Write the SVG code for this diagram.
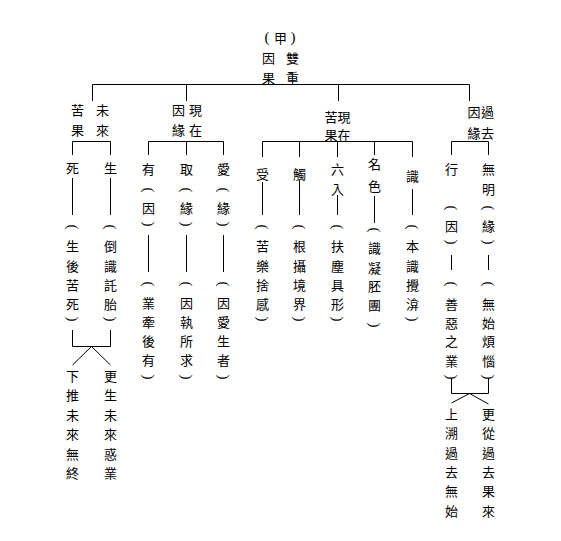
<svg xmlns="http://www.w3.org/2000/svg" width="561" height="541" viewBox="0 0 561 541">
<style>
text{font-family:"Noto Sans CJK TC","Noto Sans CJK SC",sans-serif;font-size:13px;text-anchor:middle;dominant-baseline:central;fill:#000}
text.p,tspan.p{font-family:"Liberation Serif",serif;font-size:15px}
.c line,.c path{stroke:#000;stroke-width:1;fill:none}
</style>
<rect width="561" height="541" fill="#fff"/>
<g id="connectors" class="c">
<line x1="92.5" y1="84.5" x2="469.5" y2="84.5"/>
<line x1="92.5" y1="84.5" x2="92.5" y2="101"/>
<line x1="186.5" y1="84.5" x2="186.5" y2="101"/>
<line x1="338.5" y1="84.5" x2="338.5" y2="101"/>
<line x1="469.5" y1="84.5" x2="469.5" y2="101"/>
<path d="M72.5 155V141.5H110.5V155"/>
<path d="M148.5 155V141.5H223.5V155M186.5 141.5V155"/>
<path d="M262.5 157V141.5H412.5V157M299.5 141.5V157M337.5 141.5V157M374.5 141.5V155"/>
<path d="M451.5 155V141.5H488.5V155"/>
<line x1="72.5" y1="178" x2="72.5" y2="215"/>
<line x1="110.5" y1="178" x2="110.5" y2="215"/>
<path d="M72.5 330V346.5H110.5V330M91.5 346.5L72.5 365M91.5 346.5L110.5 365"/>
<line x1="148.5" y1="235" x2="148.5" y2="272"/>
<line x1="186.5" y1="235" x2="186.5" y2="272"/>
<line x1="223.5" y1="235" x2="223.5" y2="272"/>
<line x1="262.5" y1="182" x2="262.5" y2="215"/>
<line x1="299.5" y1="180" x2="299.5" y2="215"/>
<line x1="337.5" y1="195" x2="337.5" y2="215"/>
<line x1="374.5" y1="196" x2="374.5" y2="223"/>
<line x1="412.5" y1="189" x2="412.5" y2="215"/>
<line x1="451.5" y1="255" x2="451.5" y2="270"/>
<line x1="488.5" y1="255" x2="488.5" y2="270"/>
<path d="M451.5 378V393.5H488.5V378M469.5 393.5L451.5 403M469.5 393.5L488.5 404"/>
</g>
<g id="title">
<text><tspan class="p" x="267" y="37">(</tspan><tspan x="280.5" y="37">甲</tspan><tspan class="p" x="293" y="37">)</tspan></text>
<text x="268.5" y="57">因</text><text x="292.5" y="57">雙</text>
<text x="268.5" y="77">果</text><text x="292.5" y="77">重</text>
</g>
<g id="future-effect">
<text x="77.5" y="109">苦</text><text x="102.5" y="109">未</text>
<text x="77.5" y="129">果</text><text x="102.5" y="129">來</text>
</g>
<g id="present-cause">
<text x="178.5" y="109">因</text><text x="195.5" y="109">現</text>
<text x="178.5" y="129">緣</text><text x="195.5" y="129">在</text>
</g>
<g id="present-effect">
<text x="331" y="116">苦</text><text x="344" y="116">現</text>
<text x="331" y="134">果</text><text x="344" y="134">在</text>
</g>
<g id="past-cause">
<text x="474" y="111">因</text><text x="487.5" y="111">過</text>
<text x="474" y="132">緣</text><text x="487.5" y="132">去</text>
</g>
<g id="death">
<text><tspan x="72.5" y="167">死</tspan><tspan x="72.5" y="245">生</tspan><tspan x="72.5" y="265">後</tspan><tspan x="72.5" y="284">苦</tspan><tspan x="72.5" y="303">死</tspan></text>
<text class="p" x="72.5" y="227" transform="rotate(90 72.5 227)">(</text><text class="p" x="72.5" y="319" transform="rotate(90 72.5 319)">)</text>
</g>
<g id="birth">
<text><tspan x="110.5" y="167">生</tspan><tspan x="110.5" y="245">倒</tspan><tspan x="110.5" y="265">識</tspan><tspan x="110.5" y="284">託</tspan><tspan x="110.5" y="303">胎</tspan></text>
<text class="p" x="110.5" y="227" transform="rotate(90 110.5 227)">(</text><text class="p" x="110.5" y="319" transform="rotate(90 110.5 319)">)</text>
</g>
<g id="future-left">
<text><tspan x="72.5" y="375">下</tspan><tspan x="72.5" y="394">推</tspan><tspan x="72.5" y="414">未</tspan><tspan x="72.5" y="433">來</tspan><tspan x="72.5" y="453">無</tspan><tspan x="72.5" y="472">終</tspan></text>
</g>
<g id="future-right">
<text><tspan x="110.5" y="375">更</tspan><tspan x="110.5" y="394">生</tspan><tspan x="110.5" y="414">未</tspan><tspan x="110.5" y="433">來</tspan><tspan x="110.5" y="453">惑</tspan><tspan x="110.5" y="472">業</tspan></text>
</g>
<g id="becoming">
<text><tspan x="148.5" y="168">有</tspan><tspan x="148.5" y="207">因</tspan><tspan x="148.5" y="302">業</tspan><tspan x="148.5" y="321">牽</tspan><tspan x="148.5" y="340">後</tspan><tspan x="148.5" y="359">有</tspan></text>
<text class="p" x="148.5" y="190" transform="rotate(90 148.5 190)">(</text><text class="p" x="148.5" y="224" transform="rotate(90 148.5 224)">)</text>
<text class="p" x="148.5" y="284" transform="rotate(90 148.5 284)">(</text><text class="p" x="148.5" y="377" transform="rotate(90 148.5 377)">)</text>
</g>
<g id="grasping">
<text><tspan x="186.5" y="168">取</tspan><tspan x="186.5" y="207">緣</tspan><tspan x="186.5" y="302">因</tspan><tspan x="186.5" y="321">執</tspan><tspan x="186.5" y="340">所</tspan><tspan x="186.5" y="359">求</tspan></text>
<text class="p" x="186.5" y="190" transform="rotate(90 186.5 190)">(</text><text class="p" x="186.5" y="224" transform="rotate(90 186.5 224)">)</text>
<text class="p" x="186.5" y="284" transform="rotate(90 186.5 284)">(</text><text class="p" x="186.5" y="377" transform="rotate(90 186.5 377)">)</text>
</g>
<g id="craving">
<text><tspan x="223.5" y="168">愛</tspan><tspan x="223.5" y="207">緣</tspan><tspan x="223.5" y="302">因</tspan><tspan x="223.5" y="321">愛</tspan><tspan x="223.5" y="340">生</tspan><tspan x="223.5" y="359">者</tspan></text>
<text class="p" x="223.5" y="190" transform="rotate(90 223.5 190)">(</text><text class="p" x="223.5" y="224" transform="rotate(90 223.5 224)">)</text>
<text class="p" x="223.5" y="284" transform="rotate(90 223.5 284)">(</text><text class="p" x="223.5" y="377" transform="rotate(90 223.5 377)">)</text>
</g>
<g id="feeling">
<text><tspan x="262.5" y="173">受</tspan><tspan x="262.5" y="245">苦</tspan><tspan x="262.5" y="265">樂</tspan><tspan x="262.5" y="284">捨</tspan><tspan x="262.5" y="303">感</tspan></text>
<text class="p" x="262.5" y="227" transform="rotate(90 262.5 227)">(</text><text class="p" x="262.5" y="319" transform="rotate(90 262.5 319)">)</text>
</g>
<g id="contact">
<text><tspan x="299.5" y="173">觸</tspan><tspan x="299.5" y="245">根</tspan><tspan x="299.5" y="265">攝</tspan><tspan x="299.5" y="284">境</tspan><tspan x="299.5" y="303">界</tspan></text>
<text class="p" x="299.5" y="227" transform="rotate(90 299.5 227)">(</text><text class="p" x="299.5" y="319" transform="rotate(90 299.5 319)">)</text>
</g>
<g id="six-entrances">
<text><tspan x="337.5" y="168">六</tspan><tspan x="337.5" y="188">入</tspan><tspan x="337.5" y="245">扶</tspan><tspan x="337.5" y="265">塵</tspan><tspan x="337.5" y="284">具</tspan><tspan x="337.5" y="303">形</tspan></text>
<text class="p" x="337.5" y="227" transform="rotate(90 337.5 227)">(</text><text class="p" x="337.5" y="319" transform="rotate(90 337.5 319)">)</text>
</g>
<g id="name-form">
<text><tspan x="374.5" y="163">名</tspan><tspan x="374.5" y="185">色</tspan><tspan x="374.5" y="247">識</tspan><tspan x="374.5" y="267">凝</tspan><tspan x="374.5" y="285">胚</tspan><tspan x="374.5" y="304">團</tspan></text>
<text class="p" x="374.5" y="230" transform="rotate(90 374.5 230)">(</text><text class="p" x="374.5" y="325" transform="rotate(90 374.5 325)">)</text>
</g>
<g id="consciousness">
<text><tspan x="412.5" y="175">識</tspan><tspan x="412.5" y="245">本</tspan><tspan x="412.5" y="265">識</tspan><tspan x="412.5" y="284">攪</tspan><tspan x="412.5" y="303">渰</tspan></text>
<text class="p" x="412.5" y="227" transform="rotate(90 412.5 227)">(</text><text class="p" x="412.5" y="319" transform="rotate(90 412.5 319)">)</text>
</g>
<g id="formation">
<text><tspan x="451.5" y="168">行</tspan><tspan x="451.5" y="225">因</tspan><tspan x="451.5" y="303">善</tspan><tspan x="451.5" y="322">惡</tspan><tspan x="451.5" y="340">之</tspan><tspan x="451.5" y="360">業</tspan></text>
<text class="p" x="451.5" y="208" transform="rotate(90 451.5 208)">(</text><text class="p" x="451.5" y="242" transform="rotate(90 451.5 242)">)</text>
<text class="p" x="451.5" y="284" transform="rotate(90 451.5 284)">(</text><text class="p" x="451.5" y="377" transform="rotate(90 451.5 377)">)</text>
</g>
<g id="ignorance">
<text><tspan x="488.5" y="168">無</tspan><tspan x="488.5" y="188">明</tspan><tspan x="488.5" y="225">緣</tspan><tspan x="488.5" y="303">無</tspan><tspan x="488.5" y="322">始</tspan><tspan x="488.5" y="340">煩</tspan><tspan x="488.5" y="360">惱</tspan></text>
<text class="p" x="488.5" y="208" transform="rotate(90 488.5 208)">(</text><text class="p" x="488.5" y="242" transform="rotate(90 488.5 242)">)</text>
<text class="p" x="488.5" y="284" transform="rotate(90 488.5 284)">(</text><text class="p" x="488.5" y="377" transform="rotate(90 488.5 377)">)</text>
</g>
<g id="past-left">
<text><tspan x="451.5" y="413">上</tspan><tspan x="451.5" y="432">溯</tspan><tspan x="451.5" y="452">過</tspan><tspan x="451.5" y="471">去</tspan><tspan x="451.5" y="490">無</tspan><tspan x="451.5" y="510">始</tspan></text>
</g>
<g id="past-right">
<text><tspan x="488.5" y="413">更</tspan><tspan x="488.5" y="432">從</tspan><tspan x="488.5" y="452">過</tspan><tspan x="488.5" y="471">去</tspan><tspan x="488.5" y="490">果</tspan><tspan x="488.5" y="510">來</tspan></text>
</g>
</svg>
